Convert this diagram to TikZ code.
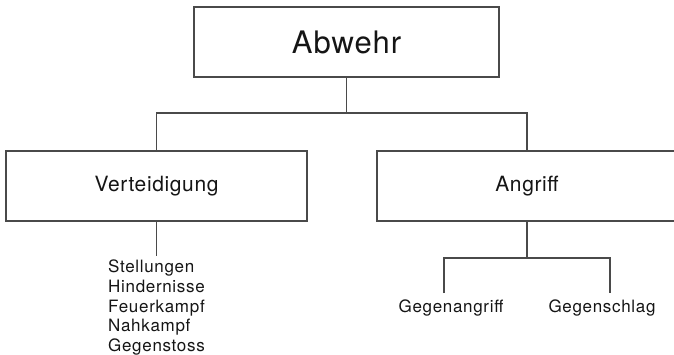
\documentclass[tikz,border=0pt]{standalone}
\usepackage{fontspec}
\setmainfont{TeX Gyre Heros}
\newfontfamily\boxfont[LetterSpace=3]{TeX Gyre Heros}
\newfontfamily\itemfont[LetterSpace=4]{TeX Gyre Heros}
\definecolor{ink}{HTML}{151515}
\definecolor{linegray}{HTML}{4A4A4A}
\tikzset{
  box/.style={draw=linegray, line width=1.2pt, minimum width=#1, minimum height=70pt, inner sep=0pt, text=ink},
  link/.style={draw=linegray, line width=1.2pt},
  item/.style={text=ink, inner xsep=0pt, font=\itemfont\fontsize{17}{19.6}\selectfont}
}
\begin{document}
\begin{tikzpicture}[x=1pt,y=-1pt]
   \useasboundingbox (0,0) rectangle (674,355);
   \clip (0,0) rectangle (674,355);

   \node[box=305pt, font=\boxfont\fontsize{31}{36}\selectfont] (abwehr) at (346.5,42) {Abwehr};
   \node[box=301pt, font=\boxfont\fontsize{21}{25}\selectfont] (vert) at (156.5,186) {Verteidigung};
   \node[box=300pt, font=\boxfont\fontsize{21}{25}\selectfont] (angr) at (527,186) {Angriff};

   \coordinate (split) at (346.5,113);
   \coordinate (split2) at (527,258);

   \node[item, anchor=north, align=left, inner ysep=4pt] (vlist) at (156.5,256)
      {Stellungen\\Hindernisse\\Feuerkampf\\Nahkampf\\Gegenstoss};
   \node[item, anchor=base, inner ysep=6pt] (gangr) at (451,312) {Gegenangriff};
   \node[item, anchor=base, inner ysep=6pt] (gschl) at (602,312) {Gegenschlag};

   \draw[link] (abwehr.south) -- (split);
   \draw[link] (vert.north) |- (split) -| (angr.north);
   \draw[link] (vert.south) -- (vlist.north);
   \draw[link] (angr.south) -- (split2);
   \draw[link] ([xshift=-7pt]gangr.north) |- (split2) -| ([xshift=8pt]gschl.north);
\end{tikzpicture}
\end{document}
